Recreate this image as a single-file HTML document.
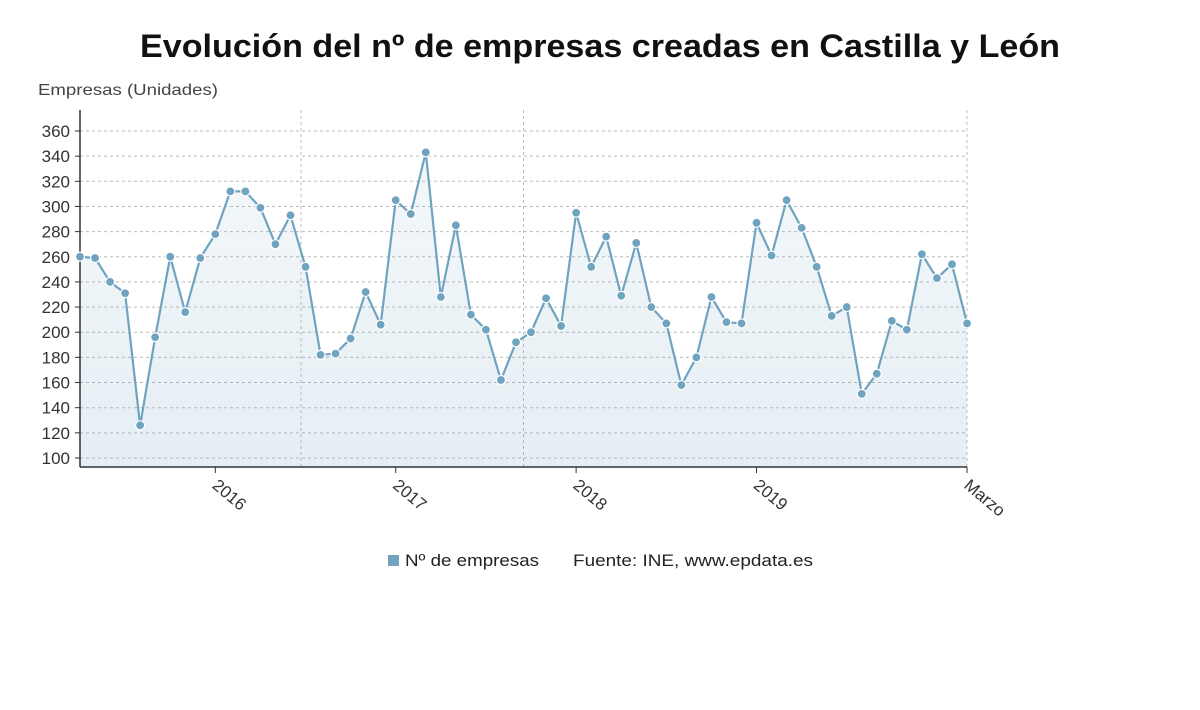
<!DOCTYPE html>
<html><head><meta charset="utf-8"><style>
body{margin:0;background:#fff;font-family:"Liberation Sans",sans-serif;}
</style></head><body>
<svg width="1200" height="705" viewBox="0 0 1200 705">
<defs><linearGradient id="g" x1="0" y1="0" x2="0" y2="1"><stop offset="0" stop-color="#6fa3c0" stop-opacity="0.08"/><stop offset="1" stop-color="#6fa3c0" stop-opacity="0.18"/></linearGradient></defs>
<text x="140" y="57" textLength="920" lengthAdjust="spacingAndGlyphs" font-size="32" font-weight="bold" fill="#111">Evolución del nº de empresas creadas en Castilla y León</text>
<text x="38" y="95" textLength="180" lengthAdjust="spacingAndGlyphs" font-size="16" fill="#444">Empresas (Unidades)</text>
<g id="grid"></g><g id="area"></g><g id="axes"></g><g id="series"></g>
<g>
<rect x="388" y="555" width="11" height="11" fill="#6fa3c0"/>
<text x="405" y="566" textLength="134" lengthAdjust="spacingAndGlyphs" font-size="17" fill="#222">Nº de empresas</text>
<text x="573" y="566" textLength="240" lengthAdjust="spacingAndGlyphs" font-size="17" fill="#222">Fuente: INE, www.epdata.es</text>
</g>
</svg>
<script>
const values=[260,259,240,231,126,196,260,216,259,278,312,312,299,270,293,252,182,183,195,232,206,305,294,343,228,285,214,202,162,192,200,227,205,295,252,276,229,271,220,207,158,180,228,208,207,287,261,305,283,252,213,220,151,167,209,202,262,243,254,207];
const yTicks=[100,120,140,160,180,200,220,240,260,280,300,320,340,360];
const xLabels=["2016","2017","2018","2019","Marzo"];
const xLabelIdx=[9,21,33,45,59];
const NS="http://www.w3.org/2000/svg";
const x0=80,x1=967,yBot=467;
const X=i=>x0+i*(x1-x0)/(values.length-1);
const Y=v=>458-(v-100)*(327/260);
function mk(t,a,p){const e=document.createElementNS(NS,t);for(const k in a)e.setAttribute(k,a[k]);p.appendChild(e);return e;}
const grid=document.getElementById('grid'),axes=document.getElementById('axes'),series=document.getElementById('series'),area=document.getElementById('area');
yTicks.forEach(v=>{
 const l=mk('line',{x1:x0,x2:x1,y1:Y(v),y2:Y(v),stroke:'#bbb','stroke-dasharray':'3,3'},grid);
 
 
 const t=mk('text',{x:70,y:Y(v)+6,'text-anchor':'end','font-size':17,fill:'#333'},axes);t.textContent=v;
 
 
 mk('line',{x1:x0-5,x2:x0,y1:Y(v),y2:Y(v),stroke:'#333'},axes);
});
[14.7,29.5,59].forEach(i=>{
 const l=mk('line',{x1:X(i),x2:X(i),y1:110,y2:yBot,stroke:'#bbb','stroke-dasharray':'3,3'},grid);
 
 
});
mk('line',{x1:x0,x2:x0,y1:110,y2:yBot,stroke:'#333','stroke-width':1.5},axes);
mk('line',{x1:x0,x2:x1,y1:yBot,y2:yBot,stroke:'#333','stroke-width':1.5},axes);
xLabels.forEach((s,k)=>{
 const x=X(xLabelIdx[k]);
 mk('line',{x1:x,x2:x,y1:yBot,y2:yBot+6,stroke:'#333'},axes);
 const t=mk('text',{x:x-4,y:yBot+20,'font-size':17,fill:'#333',transform:`rotate(40 ${x-4} ${yBot+20})`},axes);t.textContent=s;
 
 
});
let d=values.map((v,i)=>(i?'L':'M')+X(i)+','+Y(v)).join(' ');
const a=mk('path',{d:d+` L${X(values.length-1)},${yBot} L${x0},${yBot} Z`,fill:'url(#g)'},area);


const ln=mk('path',{d:d,fill:'none',stroke:'#6fa3c0','stroke-width':2.2},series);


values.forEach((v,i)=>{
 const c=mk('circle',{cx:X(i),cy:Y(v),r:4.5,fill:'#6fa3c0',stroke:'#fff','stroke-width':1.2},series);
 
 
});
</script>
</body></html>
